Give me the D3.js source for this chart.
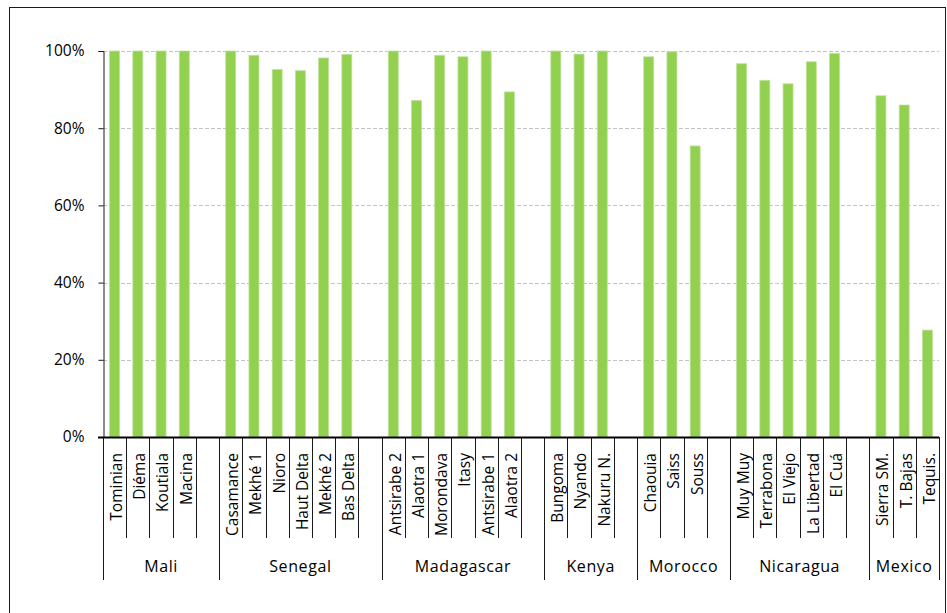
<!DOCTYPE html>
<html>
<head>
<meta charset="utf-8">
<script src="https://cdn.jsdelivr.net/npm/d3@7"></script>
<style>
  body { margin: 0; background: #fff; }
  svg { display: block; font-family: "Open Sans", sans-serif; }
</style>
</head>
<body>
<div id="chart"></div>
<script>
var w = 947;
var h = 613;
var margin = ({top: 51, right: 8, bottom: 176, left: 103});

// countries, in order
var countries = ["Mali", "Senegal", "Madagascar", "Kenya", "Morocco", "Nicaragua", "Mexico"];
// sites and which country each belongs to
var sites = ["Tominian", "Diéma", "Koutiala", "Macina",
    "Casamance", "Mekhé 1", "Nioro", "Haut Delta", "Mekhé 2", "Bas Delta",
    "Antsirabe 2", "Alaotra 1", "Morondava", "Itasy", "Antsirabe 1", "Alaotra 2",
    "Bungoma", "Nyando", "Nakuru N.",
    "Chaouia", "Saiss", "Souss",
    "Muy Muy", "Terrabona", "El Viejo", "La Libertad", "El Cuá",
    "Sierra SM.", "T. Bajas", "Tequis."];
var siteCountry = ["Mali", "Mali", "Mali", "Mali",
    "Senegal", "Senegal", "Senegal", "Senegal", "Senegal", "Senegal",
    "Madagascar", "Madagascar", "Madagascar", "Madagascar", "Madagascar", "Madagascar",
    "Kenya", "Kenya", "Kenya",
    "Morocco", "Morocco", "Morocco",
    "Nicaragua", "Nicaragua", "Nicaragua", "Nicaragua", "Nicaragua",
    "Mexico", "Mexico", "Mexico"];
// share (0..1)
var values = [1.00, 1.00, 1.00, 1.00,
    1.00, 0.989, 0.952, 0.949, 0.982, 0.991,
    1.00, 0.872, 0.989, 0.985, 1.00, 0.894,
    1.00, 0.992, 1.00,
    0.985, 0.998, 0.754,
    0.967, 0.924, 0.915, 0.972, 0.994,
    0.884, 0.860, 0.277];
var yTicks = [0, 0.2, 0.4, 0.6, 0.8, 1.0];

// build the slot list: sites of each country, then an empty slot between countries
var slots = [];
var groupSpans = [];
countries.forEach(function(c, ci) {
    var start = slots.length;
    sites.forEach(function(s, i) {
        if (siteCountry[i] == c) slots.push({key: s, site: s, value: values[i]});
    });
    if (ci < countries.length - 1) slots.push({key: "gap" + ci, site: null});
    groupSpans.push({name: c, start: start, end: slots.length});
});

var xScale = d3.scaleBand()
    .domain(slots.map(function(d) { return d.key; }))
    .range([margin.left, w - margin.right]);
var step = xScale.step();

var yScale = d3.scaleLinear()
    .domain([0, 1])
    .range([h - margin.bottom, margin.top]);

var svg = d3.select("#chart")
    .append("svg")
    .attr("width", w)
    .attr("height", h);

// outer frame
svg.append("rect")
    .attr("x", 9.5).attr("y", 7.5)
    .attr("width", 936).attr("height", 620)
    .attr("fill", "none")
    .attr("stroke", "#1a1a1a")
    .attr("stroke-width", 1);

// gridlines
svg.append("g")
    .selectAll("line")
    .data(yTicks.slice(1))
    .enter()
    .append("line")
    .attr("x1", margin.left)
    .attr("x2", w - margin.right)
    .attr("y1", function(d) { return Math.round(yScale(d)) + 0.5; })
    .attr("y2", function(d) { return Math.round(yScale(d)) + 0.5; })
    .attr("stroke", "#c4c4c4")
    .attr("stroke-dasharray", "4,2");

// bars
var barW = step * 0.43;
svg.append("g")
    .selectAll("rect")
    .data(slots.filter(function(d) { return d.site; }))
    .enter()
    .append("rect")
    .attr("x", function(d) { return xScale(d.key) + (step - barW) / 2; })
    .attr("y", function(d) { return yScale(d.value); })
    .attr("width", barW)
    .attr("height", function(d) { return yScale(0) - yScale(d.value); })
    .attr("fill", "#92d050")
    .attr("stroke", "#bfe39a")
    .attr("stroke-width", 0.8);

// y axis
var yAxis = svg.append("g")
    .attr("transform", "translate(" + (margin.left + 0.5) + ",0)")
    .call(d3.axisLeft(yScale).tickValues(yTicks).tickFormat(d3.format(".0%")).tickSize(5).tickPadding(14));
yAxis.select(".domain").attr("stroke", "#1a1a1a");
yAxis.selectAll(".tick line").attr("stroke", "#1a1a1a");
yAxis.selectAll(".tick text")
    .attr("font-size", 15.5)
    .attr("font-family", "Open Sans")
    .attr("fill", "#000");

// category tick lines
var y0 = yScale(0);
var boundaryIdx = groupSpans.map(function(g) { return g.start; }).concat([slots.length]);
svg.append("g")
    .selectAll("line")
    .data(d3.range(slots.length + 1))
    .enter()
    .append("line")
    .attr("x1", function(i) { return Math.round(margin.left + i * step) + 0.5; })
    .attr("x2", function(i) { return Math.round(margin.left + i * step) + 0.5; })
    .attr("y1", y0)
    .attr("y2", function(i) { return boundaryIdx.indexOf(i) >= 0 ? 580 : 538; })
    .attr("stroke", "#1a1a1a")
    .attr("stroke-width", 1);

// baseline
svg.append("line")
    .attr("x1", margin.left - 5)
    .attr("x2", w - margin.right)
    .attr("y1", y0 + 0.5)
    .attr("y2", y0 + 0.5)
    .attr("stroke", "#000")
    .attr("stroke-width", 2);

// site labels
svg.append("g")
    .selectAll("text")
    .data(slots.filter(function(d) { return d.site; }))
    .enter()
    .append("text")
    .attr("transform", function(d) {
        return "translate(" + (xScale(d.key) + step / 2 + 2) + "," + 453 + ") rotate(-90)";
    })
    .attr("text-anchor", "end")
    .attr("dy", "0.35em")
    .attr("font-size", 15.5)
    .attr("fill", "#000")
    .text(function(d) { return d.site; });

// country labels
svg.append("g")
    .selectAll("text")
    .data(groupSpans)
    .enter()
    .append("text")
    .attr("x", function(d) { return margin.left + (d.start + d.end) / 2 * step; })
    .attr("y", 572)
    .attr("text-anchor", "middle")
    .attr("font-size", 16)
    .attr("letter-spacing", 0.6)
    .attr("fill", "#000")
    .text(function(d) { return d.name; });
</script>
</body>
</html>
